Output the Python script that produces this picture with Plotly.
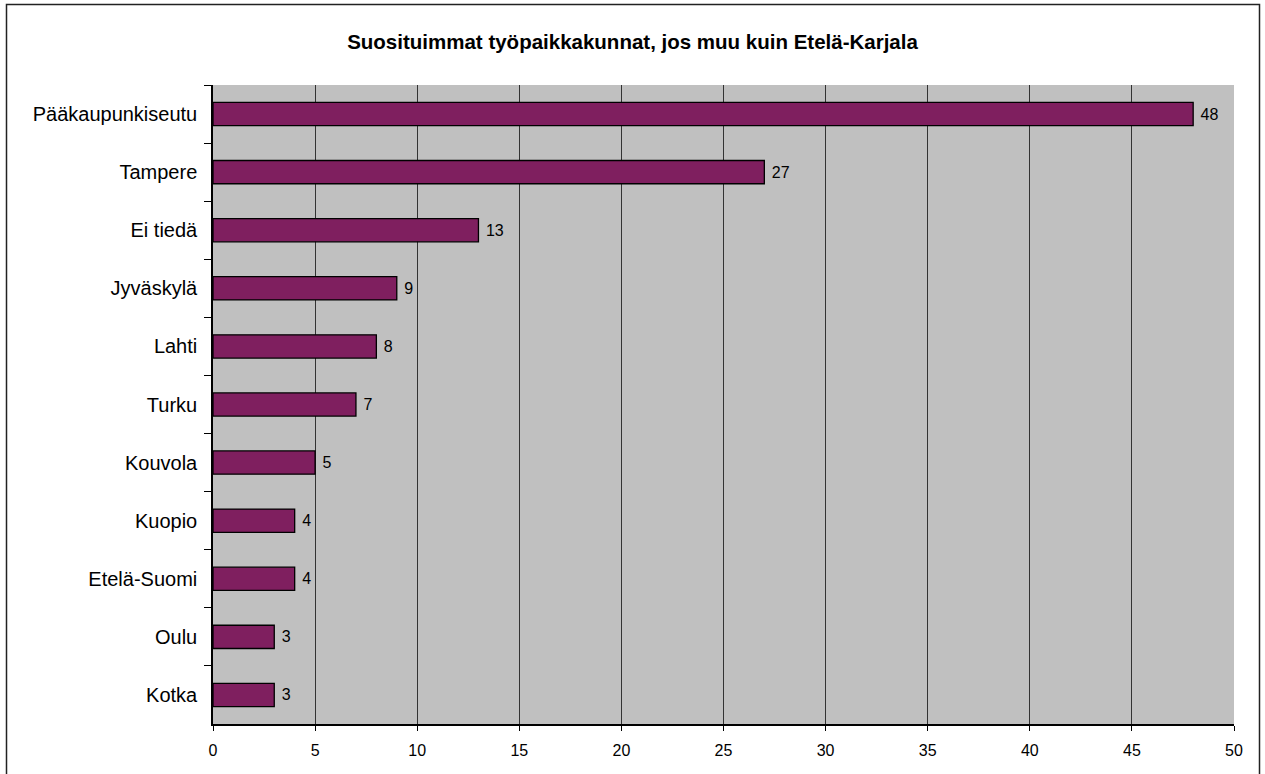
import plotly.graph_objects as go

categories = ["Pääkaupunkiseutu", "Tampere", "Ei tiedä", "Jyväskylä", "Lahti", "Turku",
              "Kouvola", "Kuopio", "Etelä-Suomi", "Oulu", "Kotka"]
values = [48, 27, 13, 9, 8, 7, 5, 4, 4, 3, 3]
x_ticks = [0, 5, 10, 15, 20, 25, 30, 35, 40, 45, 50]
title_text = "Suosituimmat työpaikkakunnat, jos muu kuin Etelä-Karjala"

FONT = "Arial, Liberation Sans, sans-serif"
W, H = 1265, 774
L, R, T, B = 213, 31, 85, 50

fig = go.Figure(go.Bar(
    x=values, y=categories, orientation="h",
    marker=dict(color="#7F1F5F", line=dict(color="black", width=1.3)),
    width=0.4,
    texttemplate=" %{x}", textposition="outside",
    textfont=dict(family=FONT, size=16, color="black"),
    cliponaxis=False,
))

pw, ph = W - L - R, H - T - B
def px_x(p):
    return (p - L) / pw
def px_y(p):
    return (H - B - p) / ph

fig.add_shape(type="rect", xref="paper", yref="paper",
              x0=px_x(6.5), x1=px_x(1259.5), y0=px_y(790), y1=px_y(4.5),
              line=dict(color="#222", width=1.5), layer="below")

fig.update_layout(
    width=W, height=H,
    margin=dict(l=L, r=R, t=T, b=B),
    paper_bgcolor="white", plot_bgcolor="#C0C0C0",
    showlegend=False,
    title=dict(text="<b>" + title_text + "</b>", x=0.5, xanchor="center",
               y=1 - 42 / H, yanchor="middle",
               font=dict(family=FONT, size=20.5, color="black")),
    font=dict(family=FONT, color="black"),
)
fig.update_xaxes(range=[0, 50], tickvals=x_ticks, ticktext=[str(t) for t in x_ticks],
                 showgrid=True, gridcolor="#333", gridwidth=1,
                 showline=True, linecolor="black", linewidth=1.5,
                 ticks="outside", ticklen=5, tickcolor="black",
                 tickfont=dict(family=FONT, size=16), ticklabelstandoff=6,
                 zeroline=False)
fig.update_yaxes(categoryorder="array", categoryarray=categories, autorange="reversed",
                 showline=True, linecolor="black", linewidth=1.5,
                 ticks="outside", ticklen=7, tickcolor="black", tickson="boundaries",
                 tickfont=dict(family=FONT, size=20), ticklabelstandoff=10,
                 showgrid=False)

fig.write_html("out.html", config={"displayModeBar": False},
               post_script="document.body.style.margin='0';document.body.style.overflow='hidden';")
